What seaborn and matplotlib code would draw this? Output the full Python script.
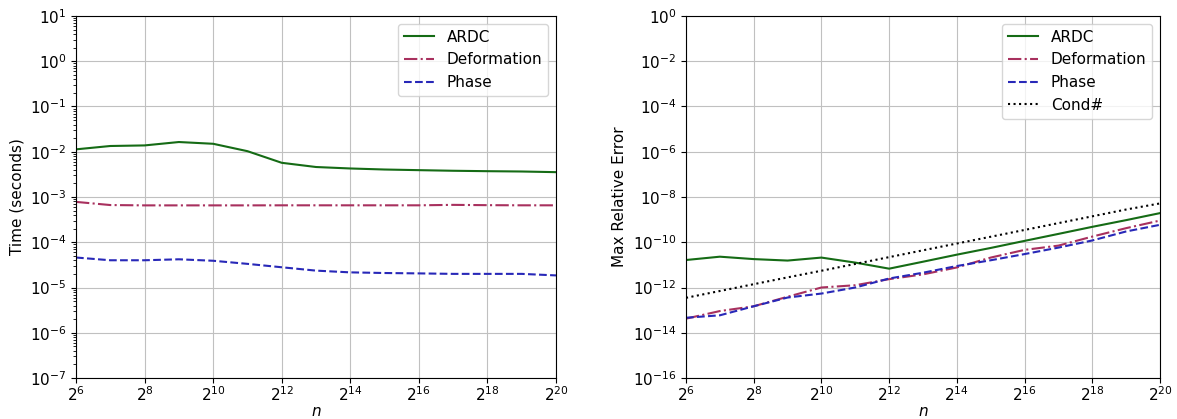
import numpy as np
import pandas as pd
import matplotlib
matplotlib.use("Agg")
import matplotlib.pyplot as plt
import matplotlib.ticker as mticker
import seaborn as sns

# ---- data ----
exponents = [6, 7, 8, 9, 10, 11, 12, 13, 14, 15, 16, 17, 18, 19, 20]
n_values = [2 ** k for k in exponents]

time_ardc = [1.13e-2, 1.34e-2, 1.38e-2, 1.64e-2, 1.50e-2, 1.03e-2, 5.7e-3, 4.6e-3,
             4.27e-3, 4.05e-3, 3.92e-3, 3.80e-3, 3.72e-3, 3.66e-3, 3.54e-3]
time_deform = [7.8e-4, 6.64e-4, 6.53e-4, 6.53e-4, 6.53e-4, 6.53e-4, 6.55e-4, 6.55e-4,
               6.55e-4, 6.55e-4, 6.55e-4, 6.7e-4, 6.6e-4, 6.55e-4, 6.55e-4]
time_phase = [4.6e-5, 4.0e-5, 4.0e-5, 4.2e-5, 3.9e-5, 3.33e-5, 2.8e-5, 2.36e-5,
              2.16e-5, 2.09e-5, 2.05e-5, 2.0e-5, 2.0e-5, 2.0e-5, 1.85e-5]

err_ardc = [1.64e-11, 2.3e-11, 1.8e-11, 1.55e-11, 2.1e-11, 1.26e-11, 6.8e-12, 1.38e-11,
            2.83e-11, 5.6e-11, 1.15e-10, 2.34e-10, 4.8e-10, 9.5e-10, 1.94e-9]
err_deform = [4.2e-14, 9.1e-14, 1.48e-13, 3.9e-13, 1.0e-12, 1.26e-12, 2.34e-12, 3.8e-12,
              7.7e-12, 2.1e-11, 4.6e-11, 7.1e-11, 1.78e-10, 4.2e-10, 9.1e-10]
err_phase = [4.6e-14, 5.9e-14, 1.48e-13, 3.6e-13, 5.4e-13, 1.0e-12, 2.5e-12, 4.5e-12,
             8.9e-12, 1.6e-11, 3.0e-11, 5.8e-11, 1.2e-10, 3.0e-10, 5.9e-10]
err_cond = [3.5e-13, 7.0e-13, 1.4e-12, 2.8e-12, 5.5e-12, 1.1e-11, 2.2e-11, 4.4e-11,
            8.8e-11, 1.75e-10, 3.5e-10, 7.0e-10, 1.4e-9, 2.8e-9, 5.2e-9]

x_tick_exponents = [6, 8, 10, 12, 14, 16, 18, 20]

# ---- styles ----
c_ardc = "#156b15"
c_def = "#a8305e"
c_phase = "#2828b8"
c_cond = "black"

plt.rcParams["font.family"] = ["DejaVu Sans"]
plt.rcParams["font.size"] = 11

fig = plt.figure(figsize=(11.77, 4.19), dpi=100)
ax1 = fig.add_axes([76 / 1177, 1 - 378 / 419, 480 / 1177, 362 / 419])
ax2 = fig.add_axes([686 / 1177, 1 - 378 / 419, 474 / 1177, 362 / 419])

def draw(ax, y, color, ls, label):
    sns.lineplot(x=n_values, y=y, ax=ax, color=color, linestyle=ls, label=label,
                 linewidth=1.5)

draw(ax1, time_ardc, c_ardc, "-", "ARDC")
draw(ax1, time_deform, c_def, "-.", "Deformation")
draw(ax1, time_phase, c_phase, "--", "Phase")

draw(ax2, err_ardc, c_ardc, "-", "ARDC")
draw(ax2, err_deform, c_def, "-.", "Deformation")
draw(ax2, err_phase, c_phase, "--", "Phase")
draw(ax2, err_cond, c_cond, ":", "Cond#")

for ax in (ax1, ax2):
    ax.set_xscale("log", base=2)
    ax.set_yscale("log")
    ax.set_xlim(2 ** 6, 2 ** 20)
    ax.set_xticks([2 ** k for k in x_tick_exponents])
    ax.set_xticklabels([f"$2^{{{k}}}$" for k in x_tick_exponents])
    ax.xaxis.set_minor_locator(mticker.NullLocator())
    ax.grid(True, which="major", color="#c0c0c0", linewidth=0.8)
    ax.set_xlabel("$n$", labelpad=0)
    ax.legend(loc="upper right", fontsize=11)
    for s in ax.spines.values():
        s.set_color("black")
    ax.tick_params(labelsize=11)
    ax.tick_params(axis="x", pad=2)

ax1.set_ylim(1e-7, 1e1)
ax1.set_yticks([10.0 ** k for k in range(-7, 2)])
ax1.yaxis.set_minor_locator(mticker.LogLocator(base=10, subs=np.arange(2, 10), numticks=20))
ax1.yaxis.set_minor_formatter(mticker.NullFormatter())
ax1.set_ylabel("Time (seconds)")

ax2.set_ylim(1e-16, 1e0)
ax2.set_yticks([10.0 ** k for k in range(-16, 1, 2)])
ax2.yaxis.set_minor_locator(mticker.NullLocator())
ax2.set_ylabel("Max Relative Error")

fig.savefig("out.png", dpi=100)
